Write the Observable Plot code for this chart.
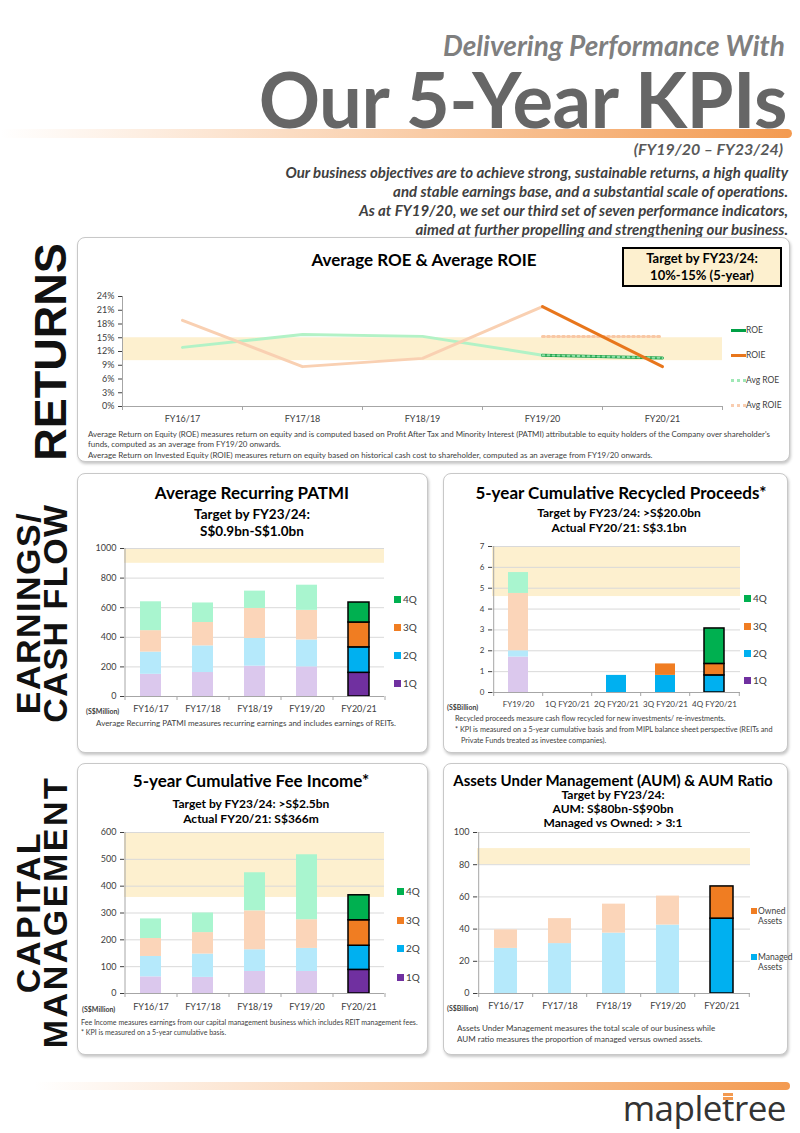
<!DOCTYPE html>
<html><head><meta charset="utf-8">
<script src="https://cdn.jsdelivr.net/npm/d3@7"></script>
<script src="https://cdn.jsdelivr.net/npm/@observablehq/plot@0.6"></script>
<style>
body{margin:0;background:#fff;}
#page{position:relative;width:800px;height:1133px;overflow:hidden;font-family:Lato,"Open Sans",sans-serif;color:#404040;background:#fff;}
.abs{position:absolute;white-space:nowrap;}
.panel{position:absolute;border:1px solid #c8c8c8;border-radius:8px;box-shadow:1px 2px 3px rgba(0,0,0,0.22);background:#fff;box-sizing:border-box;}
.side{position:absolute;font-family:"Liberation Sans",Arial,sans-serif;font-weight:bold;color:#111;transform:rotate(-90deg);text-align:center;white-space:nowrap;}
.chart{position:absolute;}
.chart svg{overflow:visible;}
</style></head>
<body><div id="page"></div>
<script>
// ---------------- DATA ----------------
const years = ["FY16/17", "FY17/18", "FY18/19", "FY19/20", "FY20/21"];
const quarters = ["1Q", "2Q", "3Q", "4Q"];
const currentYear = "FY20/21";

// Returns (%)
const roe = [12.9, 15.7, 15.3, 11.2, 10.6];
const roie = [18.8, 8.7, 10.5, 21.8, 8.7];
const avgRoe = [null, null, null, 11.2, 10.6];
const avgRoie = [null, null, null, 15.3, 15.3];
const roeTarget = [10, 15];
const roeTicks = [0, 3, 6, 9, 12, 15, 18, 21, 24];

// Average Recurring PATMI (S$ million) by quarter
const patmi1Q = [150, 162, 205, 200, 160];
const patmi2Q = [150, 180, 187, 182, 172];
const patmi3Q = [145, 158, 203, 200, 168];
const patmi4Q = [195, 132, 117, 170, 135];
const patmiTarget = [900, 1000];
const patmiTicks = [0, 200, 400, 600, 800, 1000];

// 5-year Cumulative Recycled Proceeds (S$ billion)
const recycledCats = ["FY19/20", "1Q FY20/21", "2Q FY20/21", "3Q FY20/21", "4Q FY20/21"];
const rec1Q = [1.7, 0, 0, 0, 0];
const rec2Q = [0.3, 0, 0.82, 0.82, 0.82];
const rec3Q = [2.75, 0, 0, 0.55, 0.55];
const rec4Q = [1.0, 0, 0, 0, 1.7];
const recTarget = [4.6, 7];
const recTicks = [0, 1, 2, 3, 4, 5, 6, 7];

// 5-year Cumulative Fee Income (S$ million)
const fee1Q = [62, 60, 82, 82, 88];
const fee2Q = [76, 87, 81, 86, 90];
const fee3Q = [67, 80, 145, 107, 95];
const fee4Q = [73, 73, 142, 242, 93];
const feeTarget = [358, 600];
const feeTicks = [0, 100, 200, 300, 400, 500, 600];

// AUM (S$ billion)
const managed = [28, 31, 37.5, 42.5, 46.5];
const owned = [11.5, 15.5, 18, 18, 20];
const aumTarget = [80, 90];
const aumTicks = [0, 20, 40, 60, 80, 100];

// ---------------- COLOURS ----------------
const strongQ = {"1Q": "#7030a0", "2Q": "#00b0f0", "3Q": "#f07d22", "4Q": "#00b050"};
const fadedQ = {"1Q": "#dbc8ed", "2Q": "#b5e9fb", "3Q": "#fbd5b9", "4Q": "#a9f5cf"};
const bandColor = "#fdf0cf";
const axisColor = "#a6a6a6";
const gridColor = "#d9d9d9";

const page = document.getElementById("page");
function el(tag, cls, css) {
  const d = document.createElement(tag);
  if (cls) d.className = cls;
  Object.assign(d.style, css || {});
  page.appendChild(d);
  return d;
}
function txt(s, x, y, o = {}) {
  const d = el("div", "abs");
  const size = o.size || 10, lh = o.lh || Math.round(size * 1.25);
  d.style.fontSize = size + "px"; d.style.lineHeight = lh + "px";
  d.style.top = (y - lh / 2) + "px";
  if (o.anchor === "middle") { d.style.left = (x - 300) + "px"; d.style.width = "600px"; d.style.textAlign = "center"; }
  else if (o.anchor === "end") { d.style.right = (800 - x) + "px"; d.style.textAlign = "right"; }
  else d.style.left = x + "px";
  if (o.weight) d.style.fontWeight = o.weight;
  if (o.italic) d.style.fontStyle = "italic";
  if (o.color) d.style.color = o.color;
  if (o.family) d.style.fontFamily = o.family;
  if (o.ls) d.style.letterSpacing = o.ls;
  s.split("\n").forEach((l, i) => { if (i) d.appendChild(document.createElement("br")); d.appendChild(document.createTextNode(l)); });
  return d;
}

// ---------------- HEADER ----------------
txt("Delivering Performance With", 785, 45, {anchor: "end", size: 28, lh: 28, weight: 700, italic: true, color: "#7f7f7f"});
txt("Our 5-Year KPIs", 787, 99, {anchor: "end", size: 76, lh: 58, weight: 700, color: "#666666", ls: "-0.5px"});
el("div", "", {position: "absolute", left: "0px", top: "129px", width: "792px", height: "9px", borderRadius: "0 5px 5px 0",
  background: "linear-gradient(to right, rgba(244,160,90,0) 0%, rgba(244,160,90,0.45) 45%, #f39a50 100%)"});
txt("(FY19/20 \u2013 FY23/24)", 783, 149, {anchor: "end", size: 16, lh: 18, weight: 700, italic: true, color: "#595959"});
txt("Our business objectives are to achieve strong, sustainable returns, a high quality\nand stable earnings base, and a substantial scale of operations.\nAs at FY19/20, we set our third set of seven performance indicators,\naimed at further propelling and strengthening our business.",
  788, 172, {anchor: "end", size: 15, lh: 19, weight: 700, italic: true, color: "#404040"});

// ---------------- PANELS & SIDE LABELS ----------------
el("div", "panel", {left: "77px", top: "237px", width: "713px", height: "225px"});
el("div", "panel", {left: "77px", top: "473px", width: "351px", height: "280px"});
el("div", "panel", {left: "443px", top: "473px", width: "345px", height: "280px"});
el("div", "panel", {left: "77px", top: "763px", width: "351px", height: "292px"});
el("div", "panel", {left: "443px", top: "763px", width: "345px", height: "292px"});

function side(lines, cx, cy, size, lh, ls) {
  const h = lh * lines.length, w = 320;
  const d = el("div", "side", {left: (cx - w / 2) + "px", top: (cy - h / 2) + "px", width: w + "px", height: h + "px",
    fontSize: size + "px", lineHeight: lh + "px", letterSpacing: (ls || 0) + "px"});
  lines.forEach((l, i) => { if (i) d.appendChild(document.createElement("br")); d.appendChild(document.createTextNode(l)); });
}
side(["RETURNS"], 51, 352, 45, 46, 0);
side(["EARNINGS/", "CASH FLOW"], 42, 613, 34, 27, 1.5);
side(["CAPITAL", "MANAGEMENT"], 42, 912, 34, 27, 2.5);

// ---------------- HELPERS ----------------
function place(svg, left, top) {
  const d = el("div", "chart", {left: left + "px", top: top + "px"});
  d.appendChild(svg);
}
const plotStyle = (fs) => ({fontFamily: "Lato, 'Open Sans', sans-serif", fontSize: (fs || 9) + "px", color: "#404040", background: "transparent", overflow: "visible"});

function legendSquares(items, x, ys, size) {
  items.forEach((it, i) => {
    el("div", "", {position: "absolute", left: x + "px", top: (ys[i] - 3.5) + "px", width: "7px", height: "7px", background: it.color});
    txt(it.label, x + 9, ys[i], {size: size || 10, color: "#404040"});
  });
}

function stackedChart(o) {
  const rows = [];
  o.series.forEach(s => s.values.forEach((v, i) => {
    if (v > 0) rows.push({cat: o.cats[i], key: s.key, value: v,
      fill: o.strong(i) ? s.strong : s.faded, stroke: o.outline(i) ? "#000000" : "none"});
  }));
  const W = o.width - o.ml - o.mr;
  const step = W / o.cats.length;
  const last = o.cats[o.cats.length - 1];
  const svg = Plot.plot({
    width: o.width, height: o.height,
    marginLeft: o.ml, marginRight: o.mr, marginTop: o.mt, marginBottom: o.mb,
    style: plotStyle(o.fontSize),
    color: {type: "identity"},
    x: {domain: o.cats, paddingInner: o.pad, paddingOuter: o.pad / 2, tickSize: 0, tickPadding: o.xPad, label: null},
    y: {domain: [o.ticks[0], o.ticks[o.ticks.length - 1]], ticks: o.ticks, tickFormat: d => String(d), tickSize: 4, tickPadding: 4, label: null},
    marks: [
      Plot.rect([o.band], {y1: d => d[0], y2: d => d[1], fill: bandColor}),
      Plot.ruleY(o.ticks.filter(t => t > 0), {stroke: gridColor}),
      Plot.barY(rows, {x: "cat", y: "value", fill: "fill", stroke: "stroke", strokeWidth: 1.5}),
      Plot.ruleY([0], {stroke: axisColor}),
      Plot.ruleX([o.cats[0]], {y1: o.ticks[0], y2: o.ticks[o.ticks.length - 1], dx: -step / 2, stroke: axisColor}),
      Plot.ruleX(o.cats, {y1: 0, y2: 0, insetBottom: -4, dx: -step / 2, stroke: axisColor}),
      Plot.ruleX([last], {y1: 0, y2: 0, insetBottom: -4, dx: step / 2, stroke: axisColor})
    ]
  });
  return svg;
}
const quarterSeries = (a, b, c, d) => [
  {key: "1Q", values: a, strong: strongQ["1Q"], faded: fadedQ["1Q"]},
  {key: "2Q", values: b, strong: strongQ["2Q"], faded: fadedQ["2Q"]},
  {key: "3Q", values: c, strong: strongQ["3Q"], faded: fadedQ["3Q"]},
  {key: "4Q", values: d, strong: strongQ["4Q"], faded: fadedQ["4Q"]}
];
const qLegend = ["4Q", "3Q", "2Q", "1Q"].map(q => ({label: q, color: strongQ[q]}));

// ---------------- RETURNS: ROE / ROIE ----------------
txt("Average ROE & Average ROIE", 424, 259, {anchor: "middle", size: 17, weight: 700, color: "#000"});
{
  const box = el("div", "", {position: "absolute", left: "622px", top: "247px", width: "160px", height: "40px", boxSizing: "border-box",
    border: "2.5px solid #000", background: bandColor, textAlign: "center", fontWeight: "700", fontSize: "13px", lineHeight: "17px", color: "#000", paddingTop: "1px"});
  box.innerHTML = "Target by FY23/24:<br>10%-15% (5-year)";
}
{
  const rows = years.map((y, i) => ({year: y, roe: roe[i], roie: roie[i], avgRoe: avgRoe[i], avgRoie: avgRoie[i]}));
  const hist = rows.slice(0, 4), cur = rows.slice(3);
  const width = 645, ml = 42, mr = 3;
  const step = (width - ml - mr) / years.length;
  const svg = Plot.plot({
    width, height: 145, marginLeft: ml, marginRight: mr, marginTop: 10, marginBottom: 25,
    style: plotStyle(9),
    x: {type: "point", domain: years, padding: 0.5, tickSize: 0, tickPadding: 9, label: null},
    y: {domain: [0, 24], ticks: roeTicks, tickFormat: d => d + "%", tickSize: 4, tickPadding: 4, label: null},
    marks: [
      Plot.rect([roeTarget], {y1: d => d[0], y2: d => d[1], fill: bandColor}),
      Plot.line(hist, {x: "year", y: "roe", stroke: "#b2f2c6", strokeWidth: 3}),
      Plot.line(hist, {x: "year", y: "roie", stroke: "#f9d0b2", strokeWidth: 3}),
      Plot.line(cur, {x: "year", y: "avgRoie", stroke: "#f9c8a4", strokeWidth: 3, strokeDasharray: "2,3"}),
      Plot.line(cur, {x: "year", y: "roe", stroke: "#1a9e45", strokeWidth: 3}),
      Plot.line(cur, {x: "year", y: "avgRoe", stroke: "#8ee0a8", strokeWidth: 2, strokeDasharray: "2,3"}),
      Plot.line(cur, {x: "year", y: "roie", stroke: "#e8761c", strokeWidth: 3}),
      Plot.ruleY([0], {stroke: axisColor}),
      Plot.ruleX([years[0]], {y1: 0, y2: 24, dx: -step / 2, stroke: axisColor}),
      Plot.ruleX(years, {y1: 0, y2: 0, insetBottom: -4, dx: -step / 2, stroke: axisColor}),
      Plot.ruleX([years[4]], {y1: 0, y2: 0, insetBottom: -4, dx: step / 2, stroke: axisColor})
    ]
  });
  place(svg, 80, 286);
}
[
  {label: "ROE", color: "#00a046", dash: false, y: 330},
  {label: "ROIE", color: "#e8761c", dash: false, y: 355},
  {label: "Avg ROE", color: "#9fe8b6", dash: true, y: 380},
  {label: "Avg ROIE", color: "#f9cdb0", dash: true, y: 405}
].forEach(it => {
  el("div", "", {position: "absolute", left: "731px", top: (it.y - 1.5) + "px", width: "15px", height: "0px",
    borderTop: "3px " + (it.dash ? "dotted " : "solid ") + it.color});
  txt(it.label, 746, it.y, {size: 8.5, color: "#404040"});
});
txt("Average Return on Equity (ROE) measures return on equity and is computed based on Profit After Tax and Minority Interest (PATMI) attributable to equity holders of the Company over shareholder's", 88, 434, {size: 7.95, color: "#404040"});
txt("funds, computed as an average from FY19/20 onwards.", 88, 444, {size: 7.95, color: "#404040"});
txt("Average Return on Invested Equity (ROIE) measures return on equity based on historical cash cost to shareholder, computed as an average from FY19/20 onwards.", 88, 455, {size: 7.95, color: "#404040"});

// ---------------- PATMI ----------------
txt("Average Recurring PATMI", 252, 492, {anchor: "middle", size: 17, weight: 700, color: "#000"});
txt("Target by FY23/24:", 252, 514, {anchor: "middle", size: 13.5, weight: 700, color: "#000"});
txt("S$0.9bn-S$1.0bn", 252, 531, {anchor: "middle", size: 13.5, weight: 700, color: "#000"});
place(stackedChart({
  cats: years, series: quarterSeries(patmi1Q, patmi2Q, patmi3Q, patmi4Q),
  strong: i => years[i] === currentYear, outline: i => years[i] === currentYear,
  ticks: patmiTicks, band: patmiTarget,
  width: 306, height: 185, ml: 44, mr: 2, mt: 8, mb: 29, pad: 0.6, xPad: 9
}), 80, 540);
legendSquares(qLegend, 394, [599, 627, 655, 683]);
txt("(S$Million)", 86, 711, {size: 7, weight: 700, color: "#404040"});
txt("Average Recurring PATMI measures recurring earnings and includes earnings of REITs.", 246, 723, {anchor: "middle", size: 8, color: "#404040"});

// ---------------- RECYCLED PROCEEDS ----------------
txt("5-year Cumulative Recycled Proceeds*", 621, 492, {anchor: "middle", size: 17, weight: 700, color: "#000"});
txt("Target by FY23/24: >S$20.0bn", 619, 512, {anchor: "middle", size: 12, weight: 700, color: "#000"});
txt("Actual FY20/21: S$3.1bn", 619, 527, {anchor: "middle", size: 12, weight: 700, color: "#000"});
place(stackedChart({
  cats: recycledCats, series: quarterSeries(rec1Q, rec2Q, rec3Q, rec4Q),
  strong: i => i > 0, outline: i => i === recycledCats.length - 1,
  ticks: recTicks, band: recTarget, fontSize: 8,
  width: 299, height: 180, ml: 49, mr: 2, mt: 8, mb: 26, pad: 0.6, xPad: 9
}), 443, 538);
legendSquares(qLegend, 744, [598, 626, 653, 680]);
txt("(S$Billion)", 447, 707, {size: 7, weight: 700, color: "#404040"});
txt("Recycled proceeds measure cash flow recycled for new investments/ re-investments.", 455, 718, {size: 7.3, color: "#404040"});
txt("* KPI is measured on a 5-year cumulative basis and from MIPL balance sheet perspective (REITs and", 455, 729, {size: 7.3, color: "#404040"});
txt("Private Funds treated as investee companies).", 461, 740, {size: 7.3, color: "#404040"});

// ---------------- FEE INCOME ----------------
txt("5-year Cumulative Fee Income*", 251, 780, {anchor: "middle", size: 17, weight: 700, color: "#000"});
txt("Target by FY23/24: >S$2.5bn", 251, 803, {anchor: "middle", size: 12, weight: 700, color: "#000"});
txt("Actual FY20/21: S$366m", 251, 818, {anchor: "middle", size: 12, weight: 700, color: "#000"});
place(stackedChart({
  cats: years, series: quarterSeries(fee1Q, fee2Q, fee3Q, fee4Q),
  strong: i => years[i] === currentYear, outline: i => years[i] === currentYear,
  ticks: feeTicks, band: feeTarget,
  width: 306, height: 198, ml: 44, mr: 2, mt: 8, mb: 29, pad: 0.6, xPad: 10
}), 80, 824);
legendSquares(qLegend, 397, [891, 920, 948, 977]);
txt("(S$Million)", 82, 1009, {size: 7, weight: 700, color: "#404040"});
txt("Fee Income measures earnings from our capital management business which includes REIT management fees.", 81, 1022, {size: 7.05, color: "#404040"});
txt("* KPI is measured on a 5-year cumulative basis.", 81, 1032, {size: 7.05, color: "#404040"});

// ---------------- AUM ----------------
txt("Assets Under Management (AUM) & AUM Ratio", 613, 780, {anchor: "middle", size: 15, weight: 700, color: "#000"});
txt("Target by FY23/24:", 613, 794, {anchor: "middle", size: 12, weight: 700, color: "#000"});
txt("AUM: S$80bn-S$90bn", 613, 808, {anchor: "middle", size: 12, weight: 700, color: "#000"});
txt("Managed vs Owned: > 3:1", 613, 822, {anchor: "middle", size: 12, weight: 700, color: "#000"});
place(stackedChart({
  cats: years,
  series: [
    {key: "Managed Assets", values: managed, strong: "#00b0f0", faded: "#b5e9fb"},
    {key: "Owned Assets", values: owned, strong: "#f07d22", faded: "#fbd5b9"}
  ],
  strong: i => years[i] === currentYear, outline: i => years[i] === currentYear,
  ticks: aumTicks, band: aumTarget,
  width: 309, height: 198, ml: 34, mr: 2, mt: 8, mb: 29, pad: 0.58, xPad: 9
}), 443, 824);
el("div", "", {position: "absolute", left: "751px", top: (911 - 3.5) + "px", width: "6px", height: "6px", background: "#f07d22"});
txt("Owned\nAssets", 758, 911, {size: 8.5, lh: 10, color: "#404040"});
el("div", "", {position: "absolute", left: "751px", top: (957 - 3.5) + "px", width: "6px", height: "6px", background: "#00b0f0"});
txt("Managed\nAssets", 758, 957, {size: 8.5, lh: 10, color: "#404040"});
txt("(S$Billion)", 447, 1008, {size: 7, weight: 700, color: "#404040"});
txt("Assets Under Management measures the total scale of our business while", 457, 1028, {size: 8.05, color: "#404040"});
txt("AUM ratio measures the proportion of managed versus owned assets.", 457, 1039, {size: 8.05, color: "#404040"});

// ---------------- FOOTER ----------------
el("div", "", {position: "absolute", left: "35px", top: "1082px", width: "755px", height: "8px", borderRadius: "0 5px 5px 0",
  background: "linear-gradient(to right, rgba(244,160,90,0) 0%, rgba(244,160,90,0.5) 50%, #f39a50 100%)"});
{
  const logo = el("div", "abs", {right: "14px", top: "1086px", fontFamily: "'Open Sans', Lato, sans-serif", fontSize: "35px",
    lineHeight: "44px", color: "#333", letterSpacing: "-0.5px"});
  logo.appendChild(document.createTextNode("maple"));
  const t = document.createElement("span");
  t.style.position = "relative";
  t.textContent = "t";
  const bar1 = document.createElement("span");
  Object.assign(bar1.style, {position: "absolute", left: "1px", top: "9px", width: "10px", height: "2.5px", background: "#f39a50"});
  const bar2 = document.createElement("span");
  Object.assign(bar2.style, {position: "absolute", left: "1px", top: "13px", width: "10px", height: "2.5px", background: "#f39a50"});
  t.appendChild(bar1); t.appendChild(bar2);
  logo.appendChild(t);
  logo.appendChild(document.createTextNode("ree"));
}
</script>
</body></html>
